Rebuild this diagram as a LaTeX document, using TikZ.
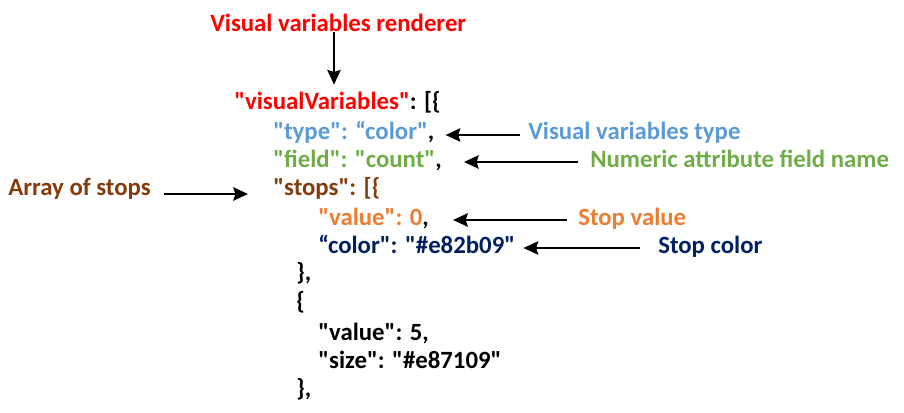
\documentclass[tikz,border=0pt]{standalone}
\usepackage{fontspec}
\setmainfont{Carlito}[Ligatures=TeXOff]
\usepackage{xcolor}
\usetikzlibrary{arrows.meta,positioning}

\definecolor{vvred}{HTML}{FF0000}
\definecolor{vvblue}{HTML}{5B9BD5}
\definecolor{vvgreen}{HTML}{70AD47}
\definecolor{vvbrown}{HTML}{843C0C}
\definecolor{vvorange}{HTML}{ED7D31}
\definecolor{vvnavy}{HTML}{002060}

\begin{document}
\begin{tikzpicture}[x=0.75pt, y=-0.75pt,
  font=\bfseries\fontsize{18.6}{22}\selectfont,
  code/.style={anchor=base west, inner sep=0pt},
  note/.style={anchor=base west, inner sep=0pt},
  arr/.style={-{Stealth[length=11pt,width=10pt,inset=1.5pt]}, line width=1.7pt}]
  \useasboundingbox (0,0) rectangle (904,413);

  % json lines
  \node[code] (vars) at (234,110) {\textcolor{vvred}{"visualVariables"}: [\{};
  \node[code, text=vvblue] (type) at (273,139.5) {"type": “color"\textcolor{black}{,}};
  \node[code, text=vvgreen] (field) at (273,167.5) {"field": "count"\textcolor{black}{,}};
  \node[code, text=vvbrown] (stops) at (273,196) {"stops": [\{};
  \node[code, text=vvorange] (value) at (318,226) {"value": 0\textcolor{black}{,}};
  \node[code, text=vvnavy] (color) at (318,253.5) {“color": "\#e82b09"};
  \node[code] (close1) at (296,281) {\},};
  \node[code] (open2) at (296,310) {\{};
  \node[code] (value2) at (318,341) {"value": 5,};
  \node[code] (size2) at (318,369) {"size": "\#e87109"};
  \node[code] (close2) at (296,397) {\},};

  % labels
  \node[note, text=vvred] (renderer) at (210,32) {Visual variables renderer};
  \node[note, text=vvblue] (lbltype) at (528,139.5) {Visual variables type};
  \node[note, text=vvgreen] (lblfield) at (590,167.5) {Numeric attribute field name};
  \node[note, text=vvbrown] (lblstops) at (8,196) {Array of stops};
  \node[note, text=vvorange] (lblvalue) at (578,226) {Stop value};
  \node[note, text=vvnavy] (lblcolor) at (658,253.5) {Stop color};

  % arrows
  \draw[arr] ([shift={(124,0)}]renderer.south west) -- ([shift={(100,-7)}]vars.north west);
  \draw[arr] ([shift={(-8,-4.5)}]lbltype.base west) -- ([shift={(11,-4.5)}]type.base east);
  \draw[arr] ([shift={(-12,-5.5)}]lblfield.base west) -- ([shift={(22,-5.5)}]field.base east);
  \draw[arr] ([shift={(13,-2)}]lblstops.base east) -- ([shift={(-25,-2)}]stops.base west);
  \draw[arr] ([shift={(-11,-6)}]lblvalue.base west) -- ([shift={(24,-6)}]value.base east);
  \draw[arr] ([shift={(-18,-5.5)}]lblcolor.base west) -- ([shift={(8,-5.5)}]color.base east);
\end{tikzpicture}
\end{document}
